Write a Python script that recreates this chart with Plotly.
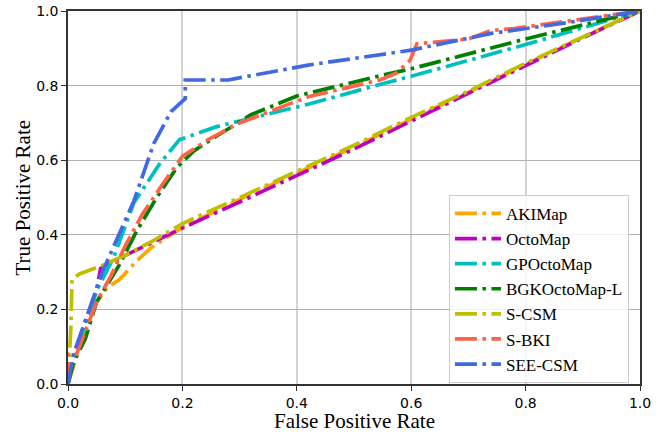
import plotly.graph_objects as go

names = ["AKIMap", "OctoMap", "GPOctoMap", "BGKOctoMap-L", "S-CSM", "S-BKI", "SEE-CSM"]
colors = ["#FFA500", "#BF00BF", "#00BFBF", "#008000", "#BFBF00", "#FF6347", "#4169E1"]

aki_x = [0.0, 0.02, 0.05, 0.07, 0.09, 0.12, 0.145, 0.2, 0.3, 0.4, 0.5, 0.6, 0.7, 0.8, 0.9, 1.0]
aki_y = [0.0, 0.10, 0.22, 0.26, 0.28, 0.33, 0.365, 0.42, 0.495, 0.565, 0.635, 0.71, 0.782, 0.857, 0.93, 1.0]

octo_x = [0.0, 0.01, 0.05, 0.055, 0.057, 0.1, 0.2, 0.3, 0.4, 0.5, 0.6, 0.7, 0.8, 0.9, 1.0]
octo_y = [0.0, 0.08, 0.25, 0.29, 0.31, 0.345, 0.418, 0.488, 0.56, 0.63, 0.705, 0.78, 0.855, 0.928, 1.0]

gp_x = [0.0, 0.01, 0.05, 0.08, 0.115, 0.16, 0.195, 0.26, 0.3, 0.42, 0.55, 0.6, 0.8, 1.0]
gp_y = [0.0, 0.07, 0.25, 0.34, 0.485, 0.59, 0.655, 0.69, 0.705, 0.75, 0.805, 0.825, 0.91, 1.0]

bgk_x = [0.0, 0.01, 0.03, 0.05, 0.09, 0.12, 0.155, 0.19, 0.22, 0.26, 0.32, 0.4, 0.55, 0.6, 0.8, 1.0]
bgk_y = [0.0, 0.06, 0.12, 0.22, 0.32, 0.41, 0.50, 0.58, 0.625, 0.665, 0.722, 0.772, 0.828, 0.845, 0.925, 1.0]

scsm_x = [0.0, 0.005, 0.007, 0.02, 0.06, 0.1, 0.15, 0.2, 0.3, 0.4, 0.5, 0.6, 0.7, 0.8, 0.9, 1.0]
scsm_y = [0.0, 0.15, 0.28, 0.295, 0.318, 0.345, 0.385, 0.43, 0.50, 0.57, 0.64, 0.715, 0.785, 0.86, 0.93, 1.0]

sbki_x = [0.0, 0.0, 0.015, 0.05, 0.075, 0.1, 0.13, 0.165, 0.2, 0.245, 0.3, 0.42, 0.545, 0.575, 0.598, 0.61, 0.7, 0.74, 0.78, 1.0]
sbki_y = [0.0, 0.08, 0.08, 0.22, 0.29, 0.37, 0.455, 0.535, 0.61, 0.655, 0.70, 0.77, 0.815, 0.834, 0.868, 0.912, 0.925, 0.948, 0.953, 1.0]

see_x = [0.0, 0.01, 0.06, 0.115, 0.15, 0.18, 0.205, 0.205, 0.28, 0.42, 0.6, 0.74, 0.87, 1.0]
see_y = [0.0, 0.08, 0.30, 0.49, 0.645, 0.73, 0.765, 0.815, 0.815, 0.855, 0.895, 0.94, 0.968, 1.0]

xs = [aki_x, octo_x, gp_x, bgk_x, scsm_x, sbki_x, see_x]
ys = [aki_y, octo_y, gp_y, bgk_y, scsm_y, sbki_y, see_y]

ticks = [0.0, 0.2, 0.4, 0.6, 0.8, 1.0]
tick_text = ["0.0", "0.2", "0.4", "0.6", "0.8", "1.0"]

dash = "22px,5.5px,3.5px,5.5px"

fig = go.Figure()
for n, c, x, y in zip(names, colors, xs, ys):
    fig.add_trace(go.Scatter(x=x, y=y, mode="lines", name=n,
                             line=dict(color=c, width=3.7, dash=dash)))

serif = "Liberation Serif"
sans = "DejaVu Sans"

fig.update_layout(
    width=668, height=432,
    margin=dict(l=68, r=28, t=11, b=48, autoexpand=False),
    paper_bgcolor="white", plot_bgcolor="white",
    showlegend=True,
    legend=dict(x=0.666, y=0.507, xanchor="left", yanchor="top",
                bgcolor="rgba(255,255,255,0.8)", bordercolor="#cccccc", borderwidth=1,
                font=dict(family=serif, size=17, color="black"),
                itemwidth=46, tracegroupgap=0),
    xaxis=dict(range=[0, 1], tickvals=ticks, ticktext=tick_text, automargin=False,
               showgrid=True, gridcolor="#d3d3d3", gridwidth=2,
               showline=True, linecolor="#333333", linewidth=1.5, mirror=True,
               ticks="outside", ticklen=5, tickcolor="#333333",
               tickfont=dict(family=sans, size=14, color="black"),
               zeroline=False),
    yaxis=dict(range=[0, 1], tickvals=ticks, ticktext=tick_text, automargin=False,
               showgrid=True, gridcolor="#b0b0b0", gridwidth=1,
               showline=True, linecolor="#333333", linewidth=1.5, mirror=True,
               ticks="outside", ticklen=5, tickcolor="#333333",
               tickfont=dict(family=sans, size=14, color="black"),
               zeroline=False),
    annotations=[
        dict(text="False Positive Rate", xref="paper", yref="paper", x=0.5, y=0,
             xanchor="center", yanchor="middle", yshift=-37, showarrow=False,
             font=dict(family=serif, size=21, color="black")),
        dict(text="True Positive Rate", xref="paper", yref="paper", x=0, y=0.5,
             xanchor="center", yanchor="middle", xshift=-46, textangle=-90, showarrow=False,
             font=dict(family=serif, size=21, color="black")),
    ],
)

fig.write_html("out.html")
